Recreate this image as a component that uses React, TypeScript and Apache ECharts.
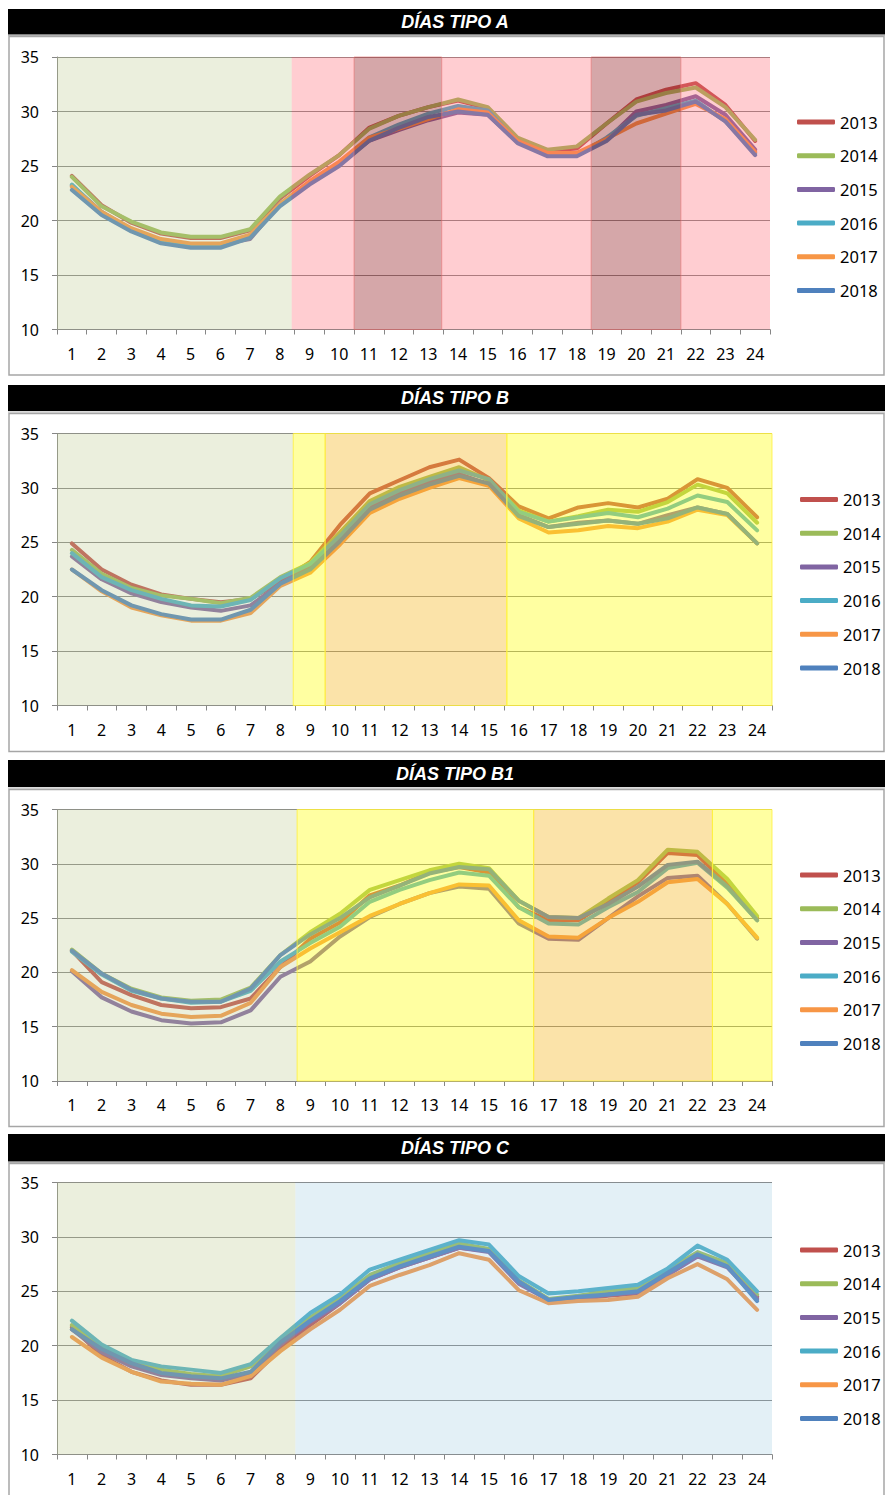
import React, { useEffect, useRef } from "react";
import * as echarts from "echarts";

// ---------- data ----------
const hours = ["1", "2", "3", "4", "5", "6", "7", "8", "9", "10", "11", "12", "13", "14", "15", "16", "17", "18", "19", "20", "21", "22", "23", "24"];
const years = ["2013", "2014", "2015", "2016", "2017", "2018"];
const yMin = 10;
const yMax = 35;
const yStep = 5;

const titles = ["DÍAS TIPO A", "DÍAS TIPO B", "DÍAS TIPO B1", "DÍAS TIPO C"];

// Días tipo A
const a2013 = [24.1, 21.4, 19.8, 18.8, 18.4, 18.4, 19.1, 22.0, 24.1, 26.0, 28.5, 29.6, 30.4, 31.0, 30.3, 27.5, 26.4, 26.6, 28.9, 31.1, 32.0, 32.6, 30.6, 27.3];
const a2014 = [24.0, 21.3, 19.9, 18.9, 18.5, 18.5, 19.2, 22.2, 24.2, 26.0, 28.4, 29.6, 30.4, 31.1, 30.4, 27.6, 26.5, 26.8, 28.9, 30.9, 31.7, 32.2, 30.4, 27.4];
const a2015 = [23.2, 20.8, 19.2, 18.2, 17.8, 17.8, 18.3, 21.5, 23.5, 25.2, 27.3, 28.3, 29.2, 29.9, 29.7, 27.2, 26.1, 26.0, 27.4, 30.0, 30.6, 31.4, 29.7, 26.5];
const a2016 = [23.3, 20.7, 19.1, 18.1, 17.6, 17.6, 18.6, 21.4, 23.4, 25.1, 27.6, 28.8, 29.8, 30.5, 30.1, 27.2, 26.0, 26.0, 27.6, 29.6, 30.3, 31.0, 29.1, 26.2];
const a2017 = [23.1, 20.8, 19.3, 18.3, 17.9, 17.9, 18.7, 21.5, 23.6, 25.4, 27.6, 28.4, 29.3, 30.2, 29.9, 27.3, 26.2, 26.2, 27.5, 28.9, 29.8, 30.7, 29.3, 26.3];
const a2018 = [22.8, 20.5, 19.0, 17.9, 17.5, 17.5, 18.4, 21.3, 23.3, 25.0, 27.3, 28.5, 29.5, 30.0, 29.7, 27.1, 25.9, 25.9, 27.3, 29.7, 30.1, 30.9, 29.1, 26.0];

// Días tipo B
const b2013 = [24.9, 22.5, 21.1, 20.2, 19.8, 19.5, 19.8, 21.4, 23.2, 26.6, 29.5, 30.7, 31.9, 32.6, 30.9, 28.3, 27.2, 28.2, 28.6, 28.2, 29.0, 30.8, 30.0, 27.3];
const b2014 = [24.3, 22.1, 20.8, 20.1, 19.8, 19.4, 19.9, 21.8, 23.1, 25.9, 28.8, 30.1, 31.0, 31.9, 30.7, 27.9, 26.9, 27.4, 28.0, 27.8, 28.7, 30.3, 29.5, 26.8];
const b2015 = [23.7, 21.6, 20.3, 19.5, 19.0, 18.7, 19.2, 21.2, 22.8, 25.4, 28.3, 29.6, 30.6, 31.3, 30.3, 27.5, 26.4, 26.8, 27.0, 26.7, 27.5, 28.2, 27.6, 24.9];
const b2016 = [24.0, 21.8, 20.6, 19.8, 19.2, 19.1, 19.7, 21.7, 23.0, 25.6, 28.5, 29.8, 30.8, 31.6, 30.8, 27.8, 26.9, 27.3, 27.7, 27.3, 28.1, 29.3, 28.7, 26.1];
const b2017 = [22.5, 20.5, 19.0, 18.3, 17.8, 17.8, 18.5, 21.0, 22.2, 24.8, 27.7, 29.0, 30.0, 30.9, 30.2, 27.2, 25.9, 26.1, 26.5, 26.3, 26.9, 28.0, 27.5, 24.9];
const b2018 = [22.5, 20.6, 19.2, 18.4, 17.9, 17.9, 18.8, 21.2, 22.5, 25.1, 28.0, 29.3, 30.3, 31.1, 30.4, 27.4, 26.4, 26.7, 27.0, 26.7, 27.2, 28.2, 27.6, 24.9];

// Días tipo B1
const b1_2013 = [22.0, 19.1, 17.9, 17.0, 16.7, 16.8, 17.6, 20.5, 23.1, 24.6, 27.1, 28.0, 29.2, 29.7, 29.2, 26.0, 24.8, 24.8, 26.5, 28.3, 31.0, 30.8, 28.1, 25.0];
const b1_2014 = [22.1, 19.9, 18.5, 17.7, 17.4, 17.5, 18.6, 21.6, 23.7, 25.4, 27.6, 28.5, 29.4, 30.0, 29.6, 26.6, 25.1, 25.0, 26.8, 28.5, 31.3, 31.1, 28.6, 25.2];
const b1_2015 = [20.1, 17.7, 16.4, 15.6, 15.3, 15.4, 16.5, 19.6, 21.0, 23.3, 25.1, 26.3, 27.3, 27.9, 27.7, 24.5, 23.1, 23.0, 25.0, 27.0, 28.7, 28.9, 26.3, 23.1];
const b1_2016 = [21.9, 19.8, 18.3, 17.6, 17.2, 17.3, 18.3, 21.0, 22.7, 24.2, 26.5, 27.6, 28.5, 29.2, 28.9, 26.0, 24.5, 24.4, 26.0, 27.4, 29.6, 30.1, 27.8, 24.8];
const b1_2017 = [20.2, 18.2, 17.0, 16.2, 15.9, 16.0, 17.2, 20.5, 22.2, 23.7, 25.2, 26.3, 27.3, 28.1, 28.0, 24.8, 23.3, 23.2, 25.0, 26.5, 28.3, 28.6, 26.3, 23.2];
const b1_2018 = [22.0, 19.9, 18.4, 17.6, 17.3, 17.3, 18.5, 21.6, 23.5, 25.0, 26.9, 28.0, 29.1, 29.7, 29.5, 26.6, 25.1, 25.0, 26.3, 27.9, 29.9, 30.2, 27.9, 24.8];

// Días tipo C
const c2013 = [21.7, 19.1, 17.6, 16.8, 16.4, 16.4, 17.0, 19.7, 21.9, 23.9, 26.1, 27.2, 28.1, 29.0, 28.7, 25.8, 24.2, 24.3, 24.6, 24.8, 26.5, 28.4, 27.4, 24.5];
const c2014 = [21.9, 19.9, 18.4, 17.8, 17.4, 17.2, 18.1, 20.4, 22.6, 24.4, 26.5, 27.6, 28.5, 29.4, 28.9, 26.0, 24.3, 24.6, 25.0, 25.3, 27.0, 28.6, 27.6, 24.7];
const c2015 = [21.5, 19.4, 18.1, 17.3, 17.0, 16.8, 17.4, 20.1, 22.2, 23.9, 26.1, 27.2, 28.1, 29.0, 28.6, 25.7, 24.2, 24.3, 24.7, 24.9, 26.5, 28.2, 27.2, 24.3];
const c2016 = [22.3, 20.1, 18.7, 18.1, 17.8, 17.5, 18.3, 20.7, 23.0, 24.7, 27.0, 27.9, 28.8, 29.7, 29.3, 26.4, 24.8, 25.0, 25.3, 25.6, 27.1, 29.2, 27.9, 25.0];
const c2017 = [20.8, 18.9, 17.6, 16.7, 16.5, 16.4, 17.2, 19.5, 21.5, 23.3, 25.5, 26.5, 27.4, 28.5, 27.9, 25.1, 23.9, 24.1, 24.2, 24.5, 26.2, 27.5, 26.1, 23.3];
const c2018 = [21.5, 19.7, 18.4, 17.5, 17.2, 17.0, 17.6, 20.3, 22.3, 24.1, 26.2, 27.3, 28.2, 29.1, 28.7, 25.9, 24.2, 24.5, 24.7, 25.0, 26.7, 28.4, 27.3, 24.1];

const panelData = [
  [a2013, a2014, a2015, a2016, a2017, a2018],
  [b2013, b2014, b2015, b2016, b2017, b2018],
  [b1_2013, b1_2014, b1_2015, b1_2016, b1_2017, b1_2018],
  [c2013, c2014, c2015, c2016, c2017, c2018],
];

// background periods, in hour units (axis runs 0.5 .. 24.5)
const zonesA = [
  [0.5, 8.4, "valle"], [8.4, 10.5, "llano"], [10.5, 13.45, "punta"],
  [13.45, 18.48, "llano"], [18.48, 21.5, "punta"], [21.5, 24.5, "llano"],
];
const zonesB = [
  [0.5, 8.43, "valle"], [8.43, 9.5, "amarillo"], [9.5, 15.6, "naranja"], [15.6, 24.6, "amarillo"],
];
const zonesB1 = [
  [0.5, 8.56, "valle"], [8.56, 16.5, "amarillo"], [16.5, 22.5, "naranja"], [22.5, 24.5, "amarillo"],
];
const zonesC = [
  [0.5, 8.5, "valle"], [8.5, 24.5, "azul"],
];
const panelZones = [zonesA, zonesB, zonesB1, zonesC];

// ---------- styles ----------
const yearColors = ["#C0504D", "#9BBB59", "#8064A2", "#4BACC6", "#F79646", "#4F81BD"];
const zoneFill: Record<string, string> = {
  valle: "rgba(188,202,142,0.30)",
  llano: "rgba(255,100,112,0.32)",
  punta: "rgba(150,35,40,0.40)",
  amarillo: "rgba(255,255,20,0.40)",
  naranja: "rgba(246,186,40,0.40)",
  azul: "rgba(143,195,219,0.25)",
};
const zoneBorder: Record<string, string> = {
  valle: "rgba(255,255,255,0)",
  llano: "rgba(255,255,255,0)",
  punta: "rgba(230,110,110,0.6)",
  amarillo: "rgba(255,240,60,0.8)",
  naranja: "rgba(255,240,60,0.8)",
  azul: "rgba(255,255,255,0)",
};

const layout = [
  { titleY: 9, titleH: 25.5, boxY: 36.5, boxH: 338.5, gridTop: 57, gridH: 272.5, gridRight: 115, legendTop: 112, legendLeft: 797 },
  { titleY: 385, titleH: 26, boxY: 413.5, boxH: 338, gridTop: 433.5, gridH: 272, gridRight: 113, legendTop: 489.5, legendLeft: 800 },
  { titleY: 760, titleH: 27, boxY: 789.5, boxH: 337, gridTop: 809.5, gridH: 271.5, gridRight: 113, legendTop: 865, legendLeft: 800 },
  { titleY: 1134, titleH: 27.5, boxY: 1163.5, boxH: 345, gridTop: 1182.5, gridH: 272, gridRight: 113, legendTop: 1240, legendLeft: 800 },
];

const FONT = "'Noto Sans', 'Open Sans', sans-serif";
const AXIS_GRAY = "#868686";

function buildOption() {
  const n = titles.length;
  const grid = layout.map((p) => ({ left: 57, right: p.gridRight, top: p.gridTop, height: p.gridH }));
  const xCat = layout.map((_, i) => ({
    type: "category",
    gridIndex: i,
    data: hours,
    boundaryGap: true,
    axisLine: { lineStyle: { color: AXIS_GRAY, width: 1 } },
    axisTick: { show: true, length: 5, lineStyle: { color: AXIS_GRAY } },
    axisLabel: { interval: 0, color: "#000", fontSize: 16, margin: 16, fontFamily: FONT },
    splitLine: { show: false },
  }));
  const xVal = layout.map((_, i) => ({
    type: "value",
    gridIndex: i,
    min: 0.5,
    max: 24.5,
    show: false,
    splitLine: { show: false },
  }));
  const yAxis = layout.map((_, i) => ({
    type: "value",
    gridIndex: i,
    min: yMin,
    max: yMax,
    interval: yStep,
    axisLine: { show: true, lineStyle: { color: AXIS_GRAY } },
    axisTick: { show: true, length: 5, lineStyle: { color: AXIS_GRAY } },
    axisLabel: { color: "#000", fontSize: 16, margin: 18, fontFamily: FONT },
    splitLine: { show: true, lineStyle: { color: AXIS_GRAY, width: 1 } },
  }));
  const legend = layout.map((p) => ({
    data: years,
    orient: "vertical",
    left: p.legendLeft,
    top: p.legendTop,
    padding: 0,
    icon: "roundRect",
    itemWidth: 38,
    itemHeight: 5,
    itemGap: 13.7,
    selectedMode: false,
    textStyle: { fontSize: 16.5, color: "#000", lineHeight: 20, fontFamily: FONT },
  }));

  const series: any[] = [];
  for (let i = 0; i < n; i++) {
    panelData[i].forEach((vals, j) => {
      series.push({
        type: "line",
        name: years[j],
        xAxisIndex: i,
        yAxisIndex: i,
        data: vals,
        symbol: "none",
        showSymbol: false,
        z: 2,
        lineStyle: { width: 4, color: yearColors[j], cap: "round", join: "round" },
        itemStyle: { color: yearColors[j] },
      });
    });
    series.push({
      type: "line",
      name: "zonas" + i,
      xAxisIndex: n + i,
      yAxisIndex: i,
      data: [],
      symbol: "none",
      markArea: {
        silent: true,
        z: 10,
        data: panelZones[i].map((z: any) => [
          {
            xAxis: z[0],
            itemStyle: { color: zoneFill[z[2]], borderColor: zoneBorder[z[2]], borderWidth: 1 },
          },
          { xAxis: z[1] },
        ]),
      },
    });
  }

  const graphic: any[] = [];
  layout.forEach((p, i) => {
    graphic.push({
      type: "rect",
      shape: { x: 8, y: p.titleY, width: 877, height: p.titleH },
      style: { fill: "#000" },
      silent: true,
    });
    graphic.push({
      type: "line",
      shape: { x1: 8, y1: p.titleY + p.titleH + 1, x2: 885, y2: p.titleY + p.titleH + 1 },
      style: { stroke: "#B4B4B4", lineWidth: 1 },
      silent: true,
    });
    graphic.push({
      type: "rect",
      shape: { x: 9, y: p.boxY, width: 875, height: p.boxH },
      style: { fill: "none", stroke: "#A6A6A6", lineWidth: 1.5 },
      silent: true,
    });
    graphic.push({
      type: "text",
      x: 455,
      y: p.titleY + p.titleH / 2,
      style: {
        text: titles[i],
        fill: "#fff",
        fontSize: 18,
        fontWeight: "bold",
        fontStyle: "italic",
        fontFamily: "'Liberation Sans', Arial, sans-serif",
        align: "center",
        verticalAlign: "middle",
        textAlign: "center",
        textVerticalAlign: "middle",
      },
      silent: true,
    });
  });

  return {
    animation: false,
    backgroundColor: "#ffffff",
    textStyle: { fontFamily: FONT },
    grid,
    xAxis: [...xCat, ...xVal],
    yAxis,
    legend,
    series,
    graphic,
  };
}

export default function App() {
  const ref = useRef<HTMLDivElement>(null);
  useEffect(() => {
    if (!ref.current) return;
    const chart = echarts.init(ref.current, undefined, { renderer: "svg" });
    chart.setOption(buildOption() as any);
    return () => {
      chart.dispose();
    };
  }, []);
  return (
    <div
      ref={ref}
      style={{ position: "absolute", left: 0, top: 0, width: 885, height: 1495, background: "#fff" }}
    />
  );
}
